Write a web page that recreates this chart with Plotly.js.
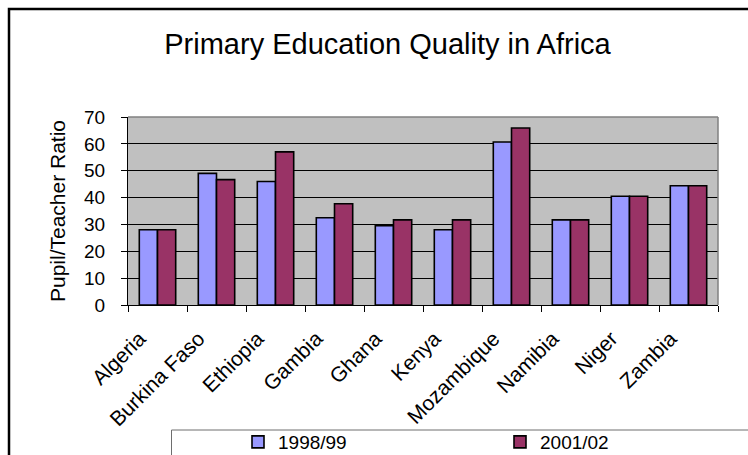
<!DOCTYPE html>
<html>
<head>
<meta charset="utf-8">
<script src="https://cdn.plot.ly/plotly-3.0.1.min.js"></script>
<style>html,body{margin:0;padding:0;background:#fff;}#chart{width:748px;height:455px;}</style>
</head>
<body>
<div id="chart"></div>
<script>
var countries = ["Algeria", "Burkina Faso", "Ethiopia", "Gambia", "Ghana", "Kenya", "Mozambique", "Namibia", "Niger", "Zambia"];
var ratio1998 = [28, 49, 46, 32.5, 29.5, 28, 60.7, 31.7, 40.5, 44.4];
var ratio2001 = [28, 46.7, 57, 37.7, 31.7, 31.7, 65.9, 31.7, 40.5, 44.4];
var yTicks = [0, 10, 20, 30, 40, 50, 60, 70];
var seriesNames = ["1998/99", "2001/02"];

var FONT = "Liberation Sans, Arial, sans-serif";
var L = 128, R = 718, T = 117, B = 305, W = 748, H = 455;
function px(x) { return (x - L) / (R - L); }
function py(y) { return (B - y) / (B - T); }

var traces = [
  {type: "bar", name: seriesNames[0], x: countries, y: ratio1998, legend: "legend",
   marker: {color: "#9999FF", line: {color: "#000000", width: 1.6}}},
  {type: "bar", name: seriesNames[1], x: countries, y: ratio2001, legend: "legend2",
   marker: {color: "#993366", line: {color: "#000000", width: 1.6}}}
];

var legendBase = {
  orientation: "h", xanchor: "left", y: py(442), yanchor: "middle",
  font: {family: FONT, size: 19, color: "#000"},
  bgcolor: "rgba(0,0,0,0)", borderwidth: 0
};

var layout = {
  width: W, height: H,
  margin: {l: L, r: W - R, t: T, b: H - B, pad: 0, autoexpand: false},
  paper_bgcolor: "#FFFFFF",
  plot_bgcolor: "#C0C0C0",
  font: {family: FONT, color: "#000000"},
  barmode: "group",
  bargap: 0.383,
  bargroupgap: 0,
  title: {text: "Primary Education Quality in Africa", font: {family: FONT, size: 29, color: "#000"},
          x: 387.5 / W, xanchor: "center", xref: "container", y: 1 - 44 / H, yanchor: "middle", yref: "container"},
  xaxis: {
    type: "category", tickson: "boundaries", ticks: "outside", ticklen: 6, tickcolor: "#000",
    tickangle: -45, tickfont: {family: FONT, size: 21, color: "#000"},
    ticklabelstandoff: 12, ticklabelshift: -18,
    showline: true, linecolor: "#000", linewidth: 1, showgrid: false, automargin: false,
    fixedrange: true
  },
  yaxis: {
    range: [0, 70], tickvals: yTicks, ticktext: yTicks.map(String),
    ticks: "outside", ticklen: 6, tickcolor: "#000", ticklabelstandoff: 12,
    tickfont: {family: FONT, size: 19, color: "#000"},
    showline: true, linecolor: "#000", linewidth: 1,
    showgrid: true, gridcolor: "#000", gridwidth: 1, zeroline: false, automargin: false,
    title: {text: "Pupil/Teacher Ratio", font: {family: FONT, size: 21, color: "#000"}, standoff: 12},
    fixedrange: true
  },
  showlegend: true,
  legend: Object.assign({}, legendBase, {x: px(238)}),
  legend2: Object.assign({}, legendBase, {x: px(500)}),
  shapes: [
    {type: "line", xref: "paper", yref: "paper", x0: 0, x1: 1, y0: 1, y1: 1,
     line: {color: "#808080", width: 1.5}, layer: "above"},
    {type: "line", xref: "paper", yref: "paper", x0: 1, x1: 1, y0: 0, y1: 1,
     line: {color: "#808080", width: 1.5}, layer: "above"},
    {type: "rect", xref: "paper", yref: "paper", x0: px(9), x1: px(770), y0: py(480), y1: py(9),
     line: {color: "#000000", width: 2.5}, layer: "below"},
    {type: "rect", xref: "paper", yref: "paper", x0: px(171.5), x1: px(770), y0: py(480), y1: py(430),
     line: {color: "#6e6e6e", width: 1}, layer: "below"}
  ]
};

Plotly.newPlot("chart", traces, layout, {displayModeBar: false, staticPlot: true});
</script>
</body>
</html>
